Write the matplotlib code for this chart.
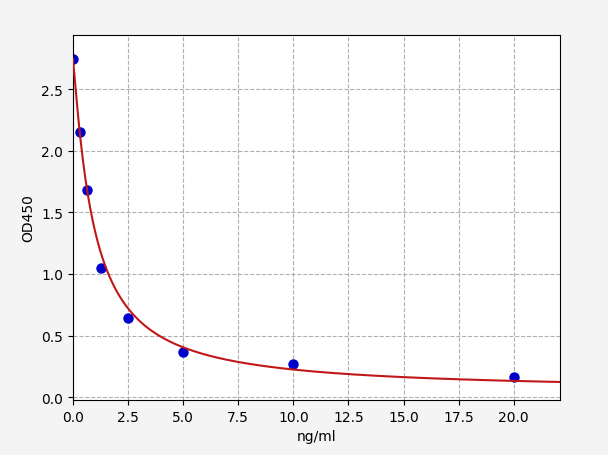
import numpy as np
import matplotlib
matplotlib.use("Agg")
import matplotlib.pyplot as plt

# Standard points
conc = [0.0, 0.3125, 0.625, 1.25, 2.5, 5.0, 10.0, 20.0]
od450 = [2.741, 2.149, 1.678, 1.046, 0.646, 0.370, 0.270, 0.162]

# Fitted four-parameter logistic curve (parameters of the fitted line)
fit_a = 2.743
fit_b = 1.1245
fit_c = 0.9376
fit_d = 0.0492

x_ticks = [0, 2.5, 5, 7.5, 10, 12.5, 15, 17.5, 20]
y_ticks = [0, 0.5, 1.0, 1.5, 2.0, 2.5]


def four_pl(t, a, b, c, d):
    return d + (a - d) / (1.0 + (t / c) ** b)


xs = np.linspace(0, 22.1, 400)
ys = four_pl(xs, fit_a, fit_b, fit_c, fit_d)

fig = plt.figure(figsize=(6.08, 4.56), dpi=100, facecolor="#f4f4f4")
ax = fig.add_axes([73 / 608, (456 - 401) / 456, (560 - 73) / 608, (401 - 36) / 456])
ax.set_facecolor("white")
ax.plot(conc, od450, "o", color="#0000cc", markersize=6.5, zorder=2)
ax.plot(xs, ys, color="#c01818", linewidth=1.5, zorder=3)
ax.grid(True, linestyle="--", color="#b0b0b0", linewidth=0.8)
ax.set_xlim(0, 22.1)
ax.set_ylim(-0.022, 2.938)
ax.set_xticks(x_ticks)
ax.set_yticks(y_ticks)
ax.set_xlabel("ng/ml")
ax.set_ylabel("OD450")
fig.savefig("out.png", dpi=100, facecolor=fig.get_facecolor())
